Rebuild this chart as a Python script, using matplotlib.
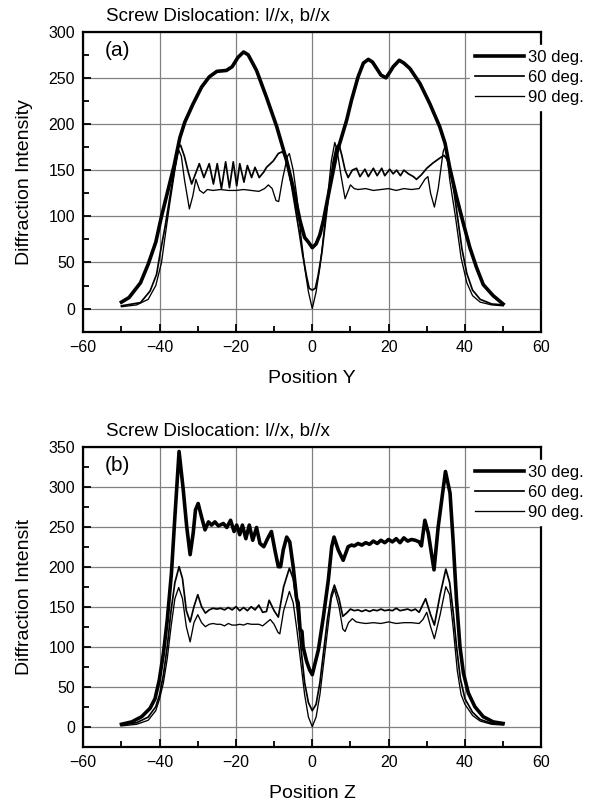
import matplotlib
matplotlib.use('Agg')
import matplotlib.pyplot as plt
from matplotlib.ticker import MultipleLocator

plt.rcParams['font.family'] = ['Liberation Sans', 'DejaVu Sans']

# ---- panel (a): Position Y ----
a30_x = [-50, -48, -46.5, -45, -43, -41, -39.5, -38, -36.2, -34.7, -33.4, -31.2, -29, -27, -25, -22.5, -21,
         -19.5, -18, -16.8, -14.6, -12, -9.3, -6.7, -5, -3.2, -2, -1, 0, 1, 2, 2.9, 4.6, 6.4, 7.7, 9, 10.3,
         12, 13.4, 14.7, 15.8, 16.9, 18, 19.3, 20.3, 21.2, 22.8, 24, 25.6, 28.2, 30.8, 33.4, 34.8, 36, 37.8,
         39.6, 41.3, 43, 44.8, 47.4, 50]
a30_y = [7, 12, 20, 28, 48, 72, 100, 125, 155, 185, 202, 222, 240, 251, 257, 258, 262,
         272, 278, 275, 258, 229, 197, 160, 131, 95, 77, 72, 66, 70, 80, 95, 131, 168, 186, 204, 226,
         251, 266, 270, 267, 260, 253, 250, 256, 262, 269, 266, 260, 244, 222, 197, 179, 153, 121,
         92, 66, 45, 26, 14, 5]

a60_x = [-50, -45, -42.5, -40.8, -39.9, -38.6, -37.3, -36, -35.1, -34.5, -33.5, -32.5, -31.6, -29.6, -28.4,
         -27, -25.9, -24.9, -23.8, -22.7, -21.7, -20.7, -19.8, -19, -17.9, -17, -15.9, -15, -13.9, -12.7,
         -12, -10.2, -8.9, -7.8, -6.7, -5.5, -4.5, -3.5, -2.5, -1.5, -0.8, 0, 0.8, 1.5, 2.5, 3.5, 4.5, 5.5,
         6.3, 7, 7.8, 8.6, 9.4, 10.5, 11.6, 12.5, 13.8, 14.7, 16, 17, 18.2, 19, 20.3, 21.2, 22.1, 23.1, 24,
         25.2, 26.5, 27.3, 28.6, 30, 31.7, 33.4, 34.5, 35.3, 36.2, 37.2, 38.2, 39.2, 40.5, 42, 44, 47, 50]
a60_y = [3, 6.5, 19, 37, 59, 88, 121, 153, 175, 177, 165, 148, 135, 157, 142,
         157, 135, 157, 130, 159, 131, 159, 133, 157, 137, 155, 142, 153, 142, 148,
         153, 160, 168, 170, 160, 135, 110, 85, 58, 35, 22, 20, 22, 35, 60, 95, 130, 160,
         175, 178, 165, 150, 142, 150, 152, 143, 151, 143, 152, 144, 152, 144, 151, 146, 150, 144, 150,
         146, 143, 140, 145, 152, 158, 163, 166, 162, 150, 125, 95, 65, 38, 20, 10, 5, 4]

a90_x = [-50, -46, -43, -41, -39.5, -38.5, -37.3, -36, -35, -34.3, -33.5, -32.2, -31.3, -30.5, -29.5,
         -28.5, -27.5, -26, -24, -22, -20, -18, -16, -14, -12.5, -11.5, -10.5, -9.5, -8.8, -7.8, -6.5,
         -6, -5, -4, -3, -2, -1, 0, 1, 2, 3, 4, 5, 5.9, 6.5, 7.5, 8.6, 10, 11, 12, 14, 16, 18, 20, 22,
         24, 26, 28, 29.5, 30.3, 31, 32, 33, 34.3, 35, 36, 37.5, 39, 40.5, 42, 44, 47, 50]
a90_y = [2, 4, 10, 25, 50, 80, 115, 150, 172, 165, 140, 108, 122, 140, 128,
         125, 129, 128, 129, 128, 128, 129, 128, 127, 130, 134, 130, 117, 116, 140, 165,
         168, 150, 120, 80, 45, 18, 0, 18, 45, 80, 120, 160, 180, 172, 145, 119, 134, 130, 129, 130, 128, 129, 130, 128,
         130, 129, 130, 140, 143, 125, 110, 130, 170, 178, 140, 100, 55, 28, 14, 7, 4, 3]

# ---- panel (b): Position Z ----
b30_x = [-50, -47.3, -44.7, -42.5, -41.2, -40.1, -39, -38, -36.9, -36, -34.9, -33.8, -32.9, -32, -31.2,
         -30.6, -29.9, -29, -28.1, -27.2, -26.4, -25.5, -24.6, -23.3, -22.4, -21.4, -20.5, -19.8, -19,
         -18.3, -17.4, -16.5, -15.6, -14.6, -13.7, -12.7, -11.5, -10.7, -9.8, -8.9, -8.3, -7.6, -6.7,
         -5.9, -5, -4.1, -3.7, -3.2, -2.7, -2.4, -1.5, -0.7, 0, 1.6, 2.9, 4.2, 5.1, 5.7, 6.8, 8.1, 9.4,
         10.3, 11, 12, 13, 14, 15, 16, 17, 18, 19, 20, 21, 22, 23, 24, 25, 26, 27, 28, 28.6, 29.5, 30.4,
         31.9, 33, 34.9, 36.1, 36.9, 37.8, 38.7, 39.6, 40.9, 42.6, 44.8, 47.4, 50]
b30_y = [3, 6, 12.5, 23, 35, 58, 92, 133, 192, 262, 344, 296, 250, 215, 242,
         271, 279, 262, 246, 256, 252, 256, 251, 254, 249, 258, 244, 252, 240,
         252, 235, 252, 233, 249, 229, 225, 237, 244, 221, 200, 200, 221, 237,
         231, 200, 160, 155, 122, 119, 100, 82, 71, 65, 96, 137, 183, 225, 237, 221, 208, 225,
         227, 226, 229, 227, 230, 228, 232, 229, 233, 230, 234, 231, 235, 230, 236, 232, 234, 233, 231, 226, 258, 242,
         196, 250, 319, 292, 233, 158, 100, 67, 42, 25, 12.5, 6, 4]

b60_x = [-50, -46, -43, -41, -40, -39, -38, -37, -36, -34.9, -34, -33, -32, -31, -30, -29, -28, -27, -26,
         -25, -24, -23, -22, -21, -20, -19, -18, -17, -16, -15, -14, -13, -12, -11.3, -10, -8.9, -7.5,
         -6, -5, -4, -3, -2, -1, 0, 1, 2, 3, 4, 5, 5.8, 7, 8, 9, 10, 11, 12, 13, 14, 15, 16, 17, 18, 19,
         20, 21, 22, 23, 24, 25, 26, 27, 28, 29.7, 31, 32, 33.5, 35, 36, 37, 37.8, 38.8, 40, 42, 44, 47, 50]
b60_y = [2, 5, 12, 25, 40, 65, 100, 145, 180, 200, 185, 145, 131, 150, 165, 150, 142, 146, 148,
         147, 148, 146, 149, 146, 150, 145, 149, 145, 150, 146, 152, 143, 144, 158, 145, 137, 175,
         198, 185, 150, 100, 55, 30, 20, 28, 55, 95, 135, 165, 177, 160, 138, 142, 147, 145, 146, 144, 146, 144, 146, 145, 147, 145,
         146, 145, 148, 145, 146, 147, 145, 147, 143, 160, 140, 127, 165, 197, 180, 140, 100, 60, 35, 18, 9, 4, 3]

b90_x = [-50, -46, -43, -41, -40, -39, -38, -37, -36, -35, -34, -33, -32, -31, -30, -29, -28, -27, -26,
         -25, -24, -23, -22, -21, -20, -19, -18, -17, -16, -15, -14, -13, -12, -11, -10, -9, -8.5, -7.5,
         -6, -5, -4, -3, -2, -1, 0, 1, 2, 3, 4, 5, 5.8, 7, 8, 8.6, 9.5, 10.5, 11.5, 12.5, 14, 16, 18, 20,
         22, 24, 26, 28, 29, 30, 31, 32, 33.5, 35, 36, 37, 38, 39, 40, 42, 44, 47, 50]
b90_y = [1, 3, 8, 20, 35, 55, 85, 125, 160, 174, 160, 125, 106, 130, 140, 130, 125, 128, 129,
         128, 128, 126, 129, 127, 127, 128, 127, 129, 128, 128, 128, 126, 130, 134, 128, 118, 116, 145,
         169, 155, 120, 80, 40, 12, 0, 12, 40, 80, 120, 160, 172, 150, 122, 119, 130, 135, 131, 130, 129, 130, 129, 131,
         129, 130, 130, 129, 134, 143, 125, 110, 140, 175, 165, 120, 70, 40, 28, 14, 7, 3, 2]

labels = ['30 deg.', '60 deg.', '90 deg.']
widths = [2.6, 1.25, 0.95]
title = 'Screw Dislocation: l//x, b//x'


def draw(ax, curves, ymax, tag, xlabel, ylabel):
    for (x, y), lab, lw in zip(curves, labels, widths):
        ax.plot(x, y, color='black', lw=lw, label=lab, zorder=3)
    ax.set_xlim(-60, 60)
    ax.set_ylim(-25, ymax)
    ax.set_xticks(range(-60, 61, 20))
    ax.set_yticks(range(0, ymax + 1, 50))
    ax.xaxis.set_minor_locator(MultipleLocator(10))
    ax.yaxis.set_minor_locator(MultipleLocator(25))
    ax.tick_params(which='both', direction='in', top=False, right=False, labelsize=11.5, width=1.3)
    ax.tick_params(which='major', length=6, pad=6)
    ax.tick_params(which='minor', length=4)
    ax.grid(True, which='major', color='#808080', lw=0.9, zorder=1)
    for s in ax.spines.values():
        s.set_linewidth(1.6)
    ax.set_xlabel(xlabel, fontsize=14, labelpad=11)
    ax.set_ylabel(ylabel, fontsize=14, labelpad=11)
    ax.text(0.05, 1.036, title, transform=ax.transAxes, fontsize=13.5, va='baseline', ha='left')
    ax.text(0.074, 0.936, tag, transform=ax.transAxes, fontsize=15, va='center', ha='center')
    leg = ax.legend(loc='upper left', bbox_to_anchor=(0.845, 0.955), fontsize=12, frameon=True,
                    fancybox=False, edgecolor='white', facecolor='white', framealpha=1.0,
                    handlelength=2.9, handletextpad=0.25, labelspacing=0.3, borderpad=0.3,
                    borderaxespad=0.0)
    leg.set_zorder(10)


fig = plt.figure(figsize=(5.94, 8.06), dpi=100)
ax1 = fig.add_axes([0.1402, 0.5885, 0.7710, 0.3722])
ax2 = fig.add_axes([0.1402, 0.0736, 0.7710, 0.3722])

draw(ax1, [(a30_x, a30_y), (a60_x, a60_y), (a90_x, a90_y)], 300, '(a)', 'Position Y', 'Diffraction Intensity')
draw(ax2, [(b30_x, b30_y), (b60_x, b60_y), (b90_x, b90_y)], 350, '(b)', 'Position Z', 'Diffraction Intensit')

fig.savefig('out.png', dpi=100)
